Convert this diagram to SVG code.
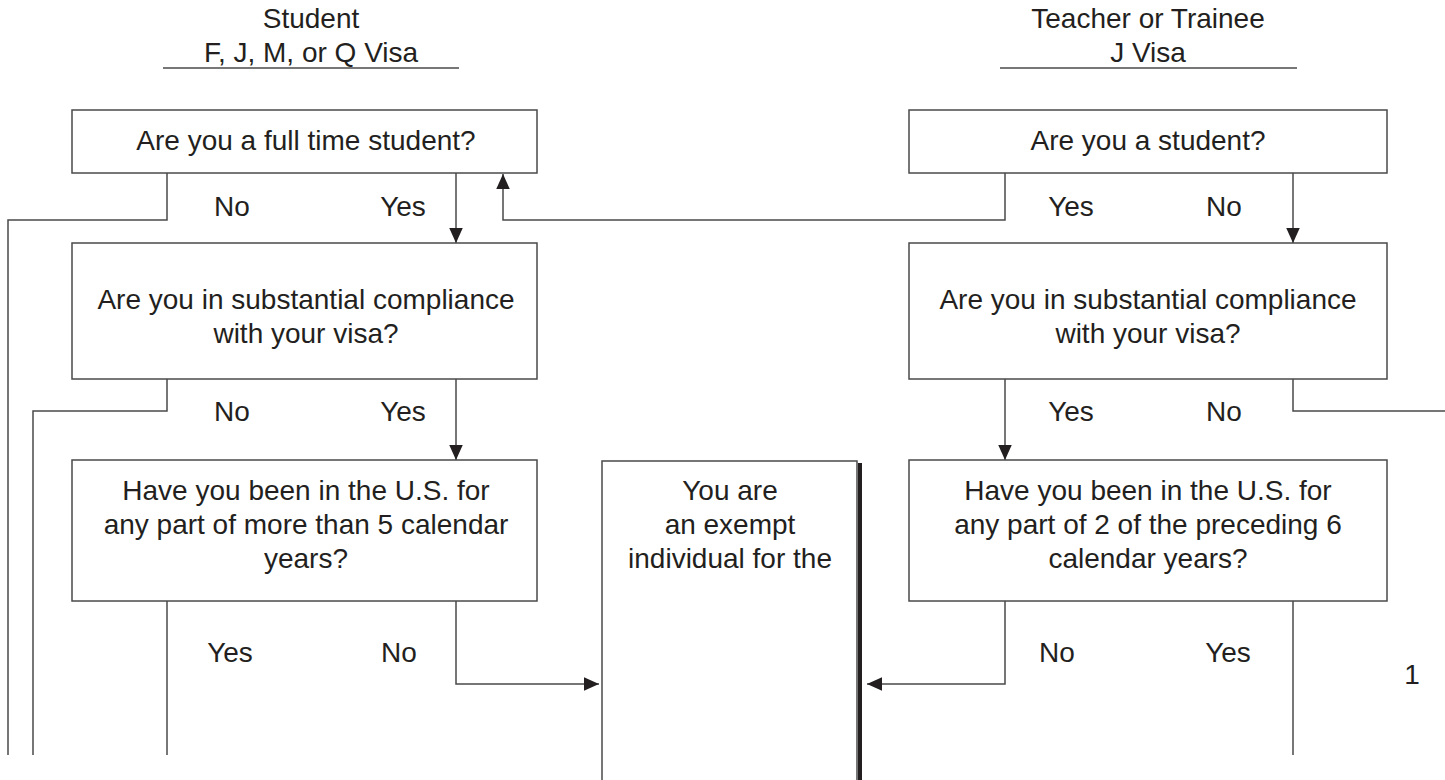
<svg xmlns="http://www.w3.org/2000/svg" width="1445" height="780" viewBox="0 0 1445 780">
<style>
text{font-family:"Liberation Sans",Arial,sans-serif;font-size:28px;fill:#231f20;text-anchor:middle}
.box{fill:#fff;stroke:#4a4a4a;stroke-width:1.5}
.ln{fill:none;stroke:#4a4a4a;stroke-width:1.5}
</style>
<defs>
<marker id="ah" viewBox="0 0 10 10" refX="10" refY="5" markerWidth="15" markerHeight="15" markerUnits="userSpaceOnUse" orient="auto">
<path d="M0,0.5 L10,5 L0,9.5 z" fill="#231f20"/>
</marker>
</defs>
<g id="headers">
<text x="311" y="28">Student</text>
<text x="311" y="62">F, J, M, or Q Visa</text>
<line class="ln" x1="163" y1="68" x2="459" y2="68"/>
<text x="1148" y="28">Teacher or Trainee</text>
<text x="1148" y="62">J Visa</text>
<line class="ln" x1="1000" y1="68" x2="1297" y2="68"/>
</g>
<g id="connectors">
<polyline class="ln" points="167,173 167,220 8,220 8,755"/>
<line class="ln" x1="456" y1="173" x2="456" y2="243" marker-end="url(#ah)"/>
<polyline class="ln" points="1005,173 1005,220 503,220 503,174" marker-end="url(#ah)"/>
<line class="ln" x1="1293" y1="173" x2="1293" y2="243" marker-end="url(#ah)"/>
<polyline class="ln" points="167,379 167,411 33,411 33,755"/>
<line class="ln" x1="456" y1="379" x2="456" y2="460" marker-end="url(#ah)"/>
<polyline class="ln" points="1293,379 1293,411 1445,411"/>
<line class="ln" x1="1005" y1="379" x2="1005" y2="460" marker-end="url(#ah)"/>
<line class="ln" x1="167" y1="601" x2="167" y2="755"/>
<polyline class="ln" points="456,601 456,684 599,684" marker-end="url(#ah)"/>
<polyline class="ln" points="1005,601 1005,684 867,684" marker-end="url(#ah)"/>
<line class="ln" x1="1293" y1="601" x2="1293" y2="755"/>
</g>
<g id="labels">
<text x="232" y="216">No</text>
<text x="403" y="216">Yes</text>
<text x="1071" y="216">Yes</text>
<text x="1224" y="216">No</text>
<text x="232" y="421">No</text>
<text x="403" y="421">Yes</text>
<text x="1071" y="421">Yes</text>
<text x="1224" y="421">No</text>
<text x="230" y="662">Yes</text>
<text x="399" y="662">No</text>
<text x="1057" y="662">No</text>
<text x="1228" y="662">Yes</text>
<text x="1412" y="684">1</text>
</g>
<g id="q1">
<rect class="box" x="72" y="110" width="465" height="63"/>
<text x="306" y="150">Are you a full time student?</text>
</g>
<g id="q2">
<rect class="box" x="909" y="110" width="478" height="63"/>
<text x="1148" y="150">Are you a student?</text>
</g>
<g id="q3">
<rect class="box" x="72" y="243" width="465" height="136"/>
<text x="306" y="309">Are you in substantial compliance</text>
<text x="306" y="343">with your visa?</text>
</g>
<g id="q4">
<rect class="box" x="909" y="243" width="478" height="136"/>
<text x="1148" y="309">Are you in substantial compliance</text>
<text x="1148" y="343">with your visa?</text>
</g>
<g id="q5">
<rect class="box" x="72" y="460" width="465" height="141"/>
<text x="306" y="500">Have you been in the U.S. for</text>
<text x="306" y="534">any part of more than 5 calendar</text>
<text x="306" y="568">years?</text>
</g>
<g id="q6">
<rect class="box" x="909" y="460" width="478" height="141"/>
<text x="1148" y="500">Have you been in the U.S. for</text>
<text x="1148" y="534">any part of 2 of the preceding 6</text>
<text x="1148" y="568">calendar years?</text>
</g>
<g id="exempt">
<rect x="858" y="463" width="4" height="320" fill="#231f20"/>
<rect class="box" x="602" y="461" width="255" height="330"/>
<text x="730" y="500">You are</text>
<text x="730" y="534">an exempt</text>
<text x="730" y="568">individual for the</text>
</g>
</svg>
